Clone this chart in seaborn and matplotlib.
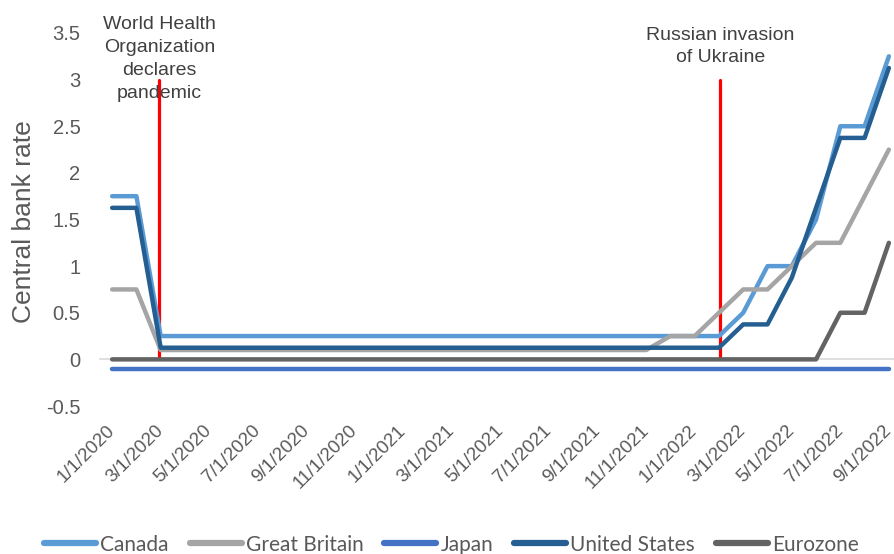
import matplotlib
matplotlib.use("Agg")
import matplotlib.pyplot as plt
import matplotlib.transforms as mtransforms
import seaborn as sns
import pandas as pd
import numpy as np

# ---- data ----
months = pd.date_range("2020-01-01", "2022-09-01", freq="MS")
month_labels = [f"{d.month}/1/{d.year}" for d in months]

canada = [1.75, 1.75] + [0.25] * 24 + [0.5, 1.0, 1.0, 1.5, 2.5, 2.5, 3.25]
great_britain = [0.75, 0.75] + [0.1] * 21 + [0.25, 0.25, 0.5, 0.75, 0.75, 1.0, 1.25, 1.25, 1.75, 2.25]
japan = [-0.1] * 33
united_states = [1.625, 1.625] + [0.125] * 24 + [0.375, 0.375, 0.875, 1.625, 2.375, 2.375, 3.125]
eurozone = [0.0] * 30 + [0.5, 0.5, 1.25]

series_names = ["Canada", "Great Britain", "Japan", "United States", "Eurozone"]
series_values = [canada, great_britain, japan, united_states, eurozone]
colors = ["#5B9BD5", "#A5A5A5", "#4472C4", "#255E91", "#636363"]

events = ["World Health\nOrganization\ndeclares\npandemic", "Russian invasion\nof Ukraine"]
event_pos = [1.95, 25.05]

rows = []
for name, vals in zip(series_names, series_values):
    for i, v in enumerate(vals):
        rows.append({"idx": i, "rate": v, "country": name})
df = pd.DataFrame(rows)

sns.set_style("white")
plt.rcParams["font.family"] = ["Liberation Sans", "DejaVu Sans"]

fig = plt.figure(figsize=(8.94, 5.54), dpi=100)
ax = fig.add_axes([100 / 894, 148 / 554, 801 / 894, 373 / 554])

sns.lineplot(data=df, x="idx", y="rate", hue="country", hue_order=series_names,
             palette=colors, linewidth=3.2, ax=ax, legend=True, zorder=3)

for xp in event_pos:
    ax.plot([xp, xp], [0, 3], color="#FF0000", linewidth=2.3, zorder=2)

ax.text(event_pos[0], 3.685, events[0], ha="center", va="top", fontsize=14,
        color="#404040", linespacing=1.48)
ax.text(event_pos[1], 3.565, events[1], ha="center", va="top", fontsize=14,
        color="#404040", linespacing=1.42)

ax.set_xlim(-0.5, 32.5)
ax.set_ylim(-0.5, 3.5)
ax.set_yticks(np.arange(-0.5, 3.51, 0.5))
ax.set_yticklabels(["-0.5", "0", "0.5", "1", "1.5", "2", "2.5", "3", "3.5"])
ax.tick_params(axis="y", length=0, labelsize=14.5, labelcolor="#595959", pad=14)

for s in ["top", "right", "left"]:
    ax.spines[s].set_visible(False)
ax.spines["bottom"].set_position(("data", 0))
ax.spines["bottom"].set_color("#D9D9D9")
ax.spines["bottom"].set_linewidth(1.2)
ax.spines["bottom"].set_zorder(1)

ax.set_xticks(range(0, 33, 2))
ax.set_xticklabels(month_labels[::2], rotation=45, ha="right", rotation_mode="anchor",
                   family=["Liberation Sans", "DejaVu Sans"])
ax.set_xticks(np.arange(-0.5, 32.6, 2), minor=True)
ax.tick_params(axis="x", which="major", length=0, labelsize=13.5, labelcolor="#595959", pad=45)
ax.tick_params(axis="x", which="minor", length=5, color="#D9D9D9", width=1.2, direction="out")
shift = mtransforms.ScaledTranslation(-6 / 100, 0, fig.dpi_scale_trans)
for lbl in ax.get_xticklabels():
    lbl.set_transform(lbl.get_transform() + shift)

ax.set_xlabel("")
ax.set_ylabel("Central bank rate", fontsize=19, color="#595959")
ax.yaxis.set_label_coords(-0.08, 0.495)

handles, labels = ax.get_legend_handles_labels()
ax.legend_.remove()
for h in handles:
    h.set_linewidth(4.5)
    h.set_solid_capstyle("round")
fig.legend(handles, labels, loc="lower center", bbox_to_anchor=(0.505, -0.035), ncol=5,
           frameon=False, handlelength=2.5, handletextpad=0.2,
           columnspacing=1.0, labelcolor="#595959",
           prop={"family": ["Lato", "Liberation Sans"], "size": 15})

fig.savefig("out.png", dpi=100)
